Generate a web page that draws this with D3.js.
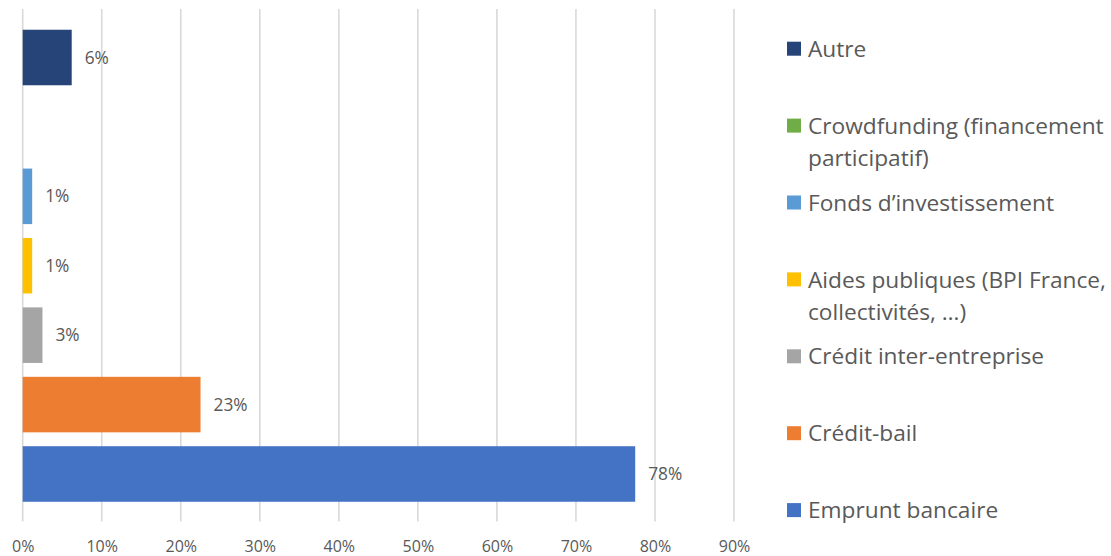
<!DOCTYPE html>
<html>
<head>
<meta charset="utf-8">
<script src="https://cdn.jsdelivr.net/npm/d3@7"></script>
<style>
  body { margin: 0; background: #fff; }
  svg text { font-family: "Open Sans", sans-serif; fill: #595959; }
</style>
</head>
<body>
<div class="plot"></div>
<script>
// categories, bottom to top as drawn
let categories = ["Emprunt bancaire", "Crédit-bail", "Crédit inter-entreprise",
  "Aides publiques (BPI France, collectivités, …)", "Fonds d’investissement",
  "Crowdfunding (financement participatif)", "Autre"]
let values = [77.5, 22.5, 2.5, 1.2, 1.2, 0, 6.2]
let valueLabels = ["78%", "23%", "3%", "1%", "1%", "", "6%"]
let colors = ["#4472C4", "#ED7D31", "#A5A5A5", "#FFC000", "#5B9BD5", "#70AD47", "#264478"]
// legend text, top to bottom, wrapped like the original
let legendLines = [["Autre"], ["Crowdfunding (financement", "participatif)"], ["Fonds d’investissement"],
  ["Aides publiques (BPI France,", "collectivités, …)"], ["Crédit inter-entreprise"], ["Crédit-bail"], ["Emprunt bancaire"]]
let xTicks = [0, 10, 20, 30, 40, 50, 60, 70, 80, 90]

let width = 1111, height = 556
let svg = d3.select(".plot").append("svg")
  .attr("width", width)
  .attr("height", height)

let x = d3.scaleLinear().domain([0, 90]).range([22.7, 734])
let y = d3.scaleBand()
  .domain(d3.range(categories.length).reverse())
  .range([22.8, 508.7])
  .paddingInner(0.2)
  .paddingOuter(0.1)

// gridlines
svg.append("g").selectAll("line")
  .data(xTicks)
  .enter().append("line")
  .attr("x1", d => x(d)).attr("x2", d => x(d))
  .attr("y1", 9).attr("y2", 521.5)
  .attr("stroke", "#D9D9D9")
  .attr("stroke-width", 1.6)

// tick labels
let xAxis = d3.axisBottom(x).tickValues(xTicks).tickFormat(d => d + "%").tickSize(0).tickPadding(0)
let gx = svg.append("g").attr("transform", "translate(0,546)").call(xAxis)
gx.select(".domain").remove()
gx.selectAll("text").style("font-size", "16px").attr("dy", "0.35em")

// bars
let bars = svg.append("g").selectAll(".bar")
  .data(values)
  .enter().append("g")
bars.append("rect")
  .attr("x", x(0))
  .attr("y", (d, i) => y(i))
  .attr("width", d => x(d) - x(0))
  .attr("height", y.bandwidth())
  .attr("fill", (d, i) => colors[i])
bars.append("text")
  .attr("x", d => x(d) + 13)
  .attr("y", (d, i) => y(i) + y.bandwidth() / 2)
  .attr("dy", "0.35em")
  .style("font-size", "17.3px")
  .text((d, i) => valueLabels[i])

// legend
let legendColors = colors.slice().reverse()
let legend = svg.append("g").selectAll(".legend")
  .data(legendLines)
  .enter().append("g")
  .attr("class", "legend")
  .attr("transform", (d, i) => "translate(787," + (48.7 + i * 76.9) + ")")
legend.append("rect")
  .attr("x", 0).attr("y", -7)
  .attr("width", 14).attr("height", 14)
  .attr("fill", (d, i) => legendColors[i])
legend.selectAll("text")
  .data(d => d)
  .enter().append("text")
  .attr("x", 21)
  .attr("y", (d, j) => j * 32)
  .attr("dy", "0.36em")
  .style("font-size", "22.7px")
  .text(d => d)
</script>
</body>
</html>
